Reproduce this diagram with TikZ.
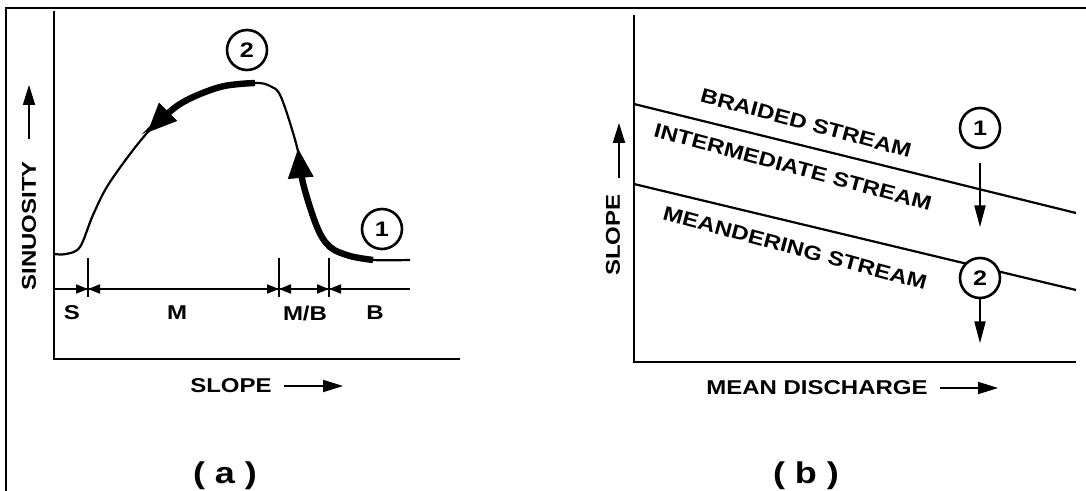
\documentclass[tikz,border=0pt]{standalone}
\usepackage{fontspec}
\newfontfamily\figfont[FakeStretch=1.2]{Liberation Sans}
\usetikzlibrary{arrows.meta,positioning}
\tikzset{
  frm/.style  ={line width=1.3pt},
  ax/.style   ={line width=1pt},
  crv/.style  ={line width=1.1pt},
  thk/.style  ={line width=3.2pt, -{Triangle[length=15pt,width=12pt]}},
  lbl/.style  ={font=\figfont\bfseries\fontsize{10}{12}\selectfont, inner sep=0pt},
  captxt/.style={font=\figfont\bfseries\fontsize{15}{17}\selectfont, inner sep=0pt},
  stage/.style={circle, draw, line width=1.3pt, minimum size=20pt, inner sep=0pt,
                font=\figfont\bfseries\fontsize{10.5}{12}\selectfont},
  axarr/.style={line width=0.9pt, -{Triangle[length=10pt,width=6pt]}},
  sarr/.style ={line width=1pt, -{Triangle[length=6pt,width=4.5pt]}},
  darr/.style ={line width=1pt, -{Triangle[length=11pt,width=5.5pt]}},
}
\begin{document}
\begin{tikzpicture}[x=0.5pt,y=-0.5pt]
  \useasboundingbox (0,0) rectangle (1086,491);
  \draw[frm] (6,491) -- (6,8) -- (1086,8);

  % (a) sinuosity against slope
  \draw[ax] (54,11) -- (54,359) -- (460,359);
  \draw[ax] (54,289) -- (410,289);
  \foreach \t in {88,279,329}{
    \draw[ax] (\t,258) -- (\t,297);
    \draw[sarr] (\t-15,289) -- (\t,289);
    \draw[sarr] (\t+17,289) -- (\t,289);
  }
  \draw[crv] plot[smooth,tension=0.55] coordinates {(54,254) (66,254) (80,247) (93,215)
    (110,182) (147,133) (180,104) (220,87) (255,83) (270,86) (281,97) (297,147)
    (303,183) (317,227) (330,247) (350,256) (373,260) (410,260)};
  \draw[thk] plot[smooth,tension=0.55] coordinates {(255,83) (220,87) (180,104) (147,133)};
  \draw[thk] plot[smooth,tension=0.55] coordinates {(373,260) (350,256) (330,247) (317,227) (303,183) (298,148)};
  \node[stage] (twoA) at (247,50) {2};
  \node[stage] (oneA) at (382,229) {1};
  \node[lbl] (sS)  at (72,313)  {S};
  \node[lbl] (sM)  at (177,313) {M};
  \node[lbl] (sMB) at (305,313) {M/B};
  \node[lbl] (sB)  at (375,313) {B};
  \node[lbl,rotate=90] (sinu) at (29,226) {SINUOSITY};
  \draw[axarr] ([yshift=11pt]sinu.east) -- ++(0,-54);
  \node[lbl] (slpA) at (231,386) {SLOPE};
  \draw[axarr] ([xshift=6pt]slpA.east) -- ++(59,0);
  \node[captxt] (capA) at (225,476) {( a )};

  % (b) slope against mean discharge
  \draw[ax] (634,15) -- (634,362) -- (1076,362);
  \draw[crv] (634,104) -- (1076,213);
  \draw[crv] (634,184) -- (1076,290);
  \node[lbl,rotate=-15] (brd)  at (806,123) {BRAIDED STREAM};
  \node[lbl,rotate=-15] (intm) at (793,167) {INTERMEDIATE STREAM};
  \node[lbl,rotate=-15] (mnd)  at (795,248) {MEANDERING STREAM};
  \node[stage] (oneB) at (980,128) {1};
  \node[stage,fill=white] (twoB) at (980,278) {2};
  \draw[darr] ([yshift=-7pt]oneB.south) -- ++(0,64);
  \draw[darr] (twoB.south) -- ++(0,44);
  \node[lbl,rotate=90] (slpB) at (613,235) {SLOPE};
  \draw[axarr] ([xshift=3pt,yshift=8pt]slpB.east) -- ++(0,-55);
  \node[lbl] (mdis) at (817,388) {MEAN DISCHARGE};
  \draw[axarr] ([xshift=6pt]mdis.east) -- ++(58,0);
  \node[captxt] (capB) at (806,476) {( b )};
\end{tikzpicture}
\end{document}
